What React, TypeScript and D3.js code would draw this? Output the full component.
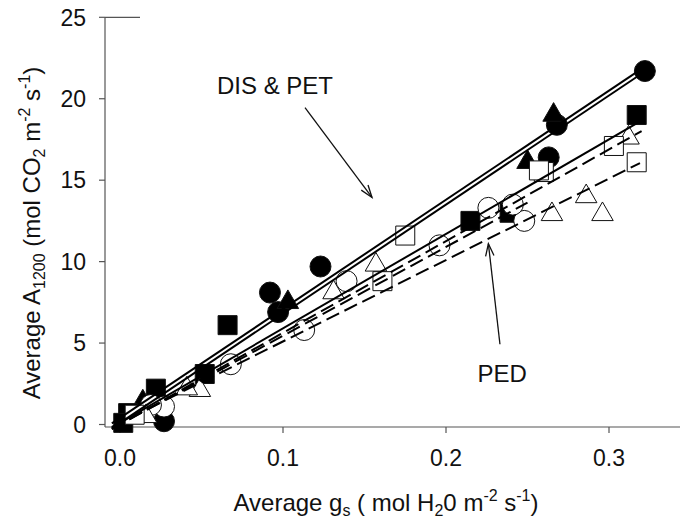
import React from 'react';
import * as d3 from 'd3';

// values: [gs, A1200]
const filledCircles = [[0.322, 21.7], [0.268, 18.4], [0.263, 16.4], [0.123, 9.7], [0.092, 8.1], [0.097, 6.9], [0.027, 0.2]];
const filledTriangles = [[0.266, 19.0], [0.25, 16.1], [0.103, 7.5], [0.014, 1.4]];
const filledSquares = [[0.317, 19.0], [0.215, 12.5], [0.239, 13.0], [0.066, 6.1], [0.052, 3.1], [0.022, 2.2], [0.005, 0.7], [0.002, 0.1]];
const openCircles = [[0.248, 12.5], [0.241, 13.5], [0.226, 13.3], [0.196, 11.0], [0.139, 8.8], [0.113, 5.8], [0.068, 3.7], [0.027, 1.1], [0.019, 1.2]];
const openTriangles = [[0.312, 17.6], [0.296, 12.9], [0.286, 14.0], [0.265, 12.9], [0.157, 9.8], [0.131, 8.1], [0.049, 2.1], [0.041, 2.2], [0.016, 0.5]];
const openSquares = [[0.317, 16.1], [0.303, 17.1], [0.26, 15.5], [0.257, 15.6], [0.175, 11.6], [0.161, 8.8], [0.009, 0.6]];

// regression lines: DIS & PET (solid) and PED (dashed)
const fitSlope = [67, 67, 58, 56.3, 54.5, 50];
const fitIntercept = [0.4, 0.1, 0.1, 0, 0, 0.1];
const fitXStart = [-0.005, -0.005, -0.005, -0.005, -0.005, -0.005];
const fitXEnd = [0.322, 0.322, 0.318, 0.32, 0.25, 0.319];

const xTicks = [0, 0.1, 0.2, 0.3];
const yTicks = [0, 5, 10, 15, 20, 25];

// annotation anchors in data units
const disLabel = [0.0951, 20.31];
const disArrow = [[0.1135, 19.45], [0.1546, 13.94]];
const pedLabel = [0.2344, 2.6];
const pedArrow = [[0.2331, 4.93], [0.226, 11.1]];

const W = 681;
const H = 527;
const FONT = '"Liberation Sans", Arial, sans-serif';

const App = () => {
  const x = d3.scaleLinear().domain([0, 0.3]).range([120, 609]);
  const y = d3.scaleLinear().domain([0, 25]).range([424.5, 17.3]);
  const axisY = 427;
  const axisX = 105;

  const circle = d3.symbol().type(d3.symbolCircle).size(346)();
  const square = d3.symbol().type(d3.symbolSquare).size(361)();
  const triangle = d3.symbol().type(d3.symbolTriangle).size(200)();

  const marks = (pts, path, fill, key) =>
    pts.map((d, i) => (
      <path key={key + i} d={path} transform={`translate(${x(d[0])},${y(d[1])})`}
        fill={fill} stroke="#111" strokeWidth={1} />
    ));

  const line = d3.line().x(d => x(d[0])).y(d => y(d[1]));

  const arrow = (pts, key) => {
    const [a, b] = pts;
    const x0 = x(a[0]), y0 = y(a[1]), x1 = x(b[0]), y1 = y(b[1]);
    const ang = Math.atan2(y1 - y0, x1 - x0);
    const len = 13, spread = 0.33;
    const h1 = [x1 - len * Math.cos(ang - spread), y1 - len * Math.sin(ang - spread)];
    const h2 = [x1 - len * Math.cos(ang + spread), y1 - len * Math.sin(ang + spread)];
    return (
      <g key={key} stroke="#111" strokeWidth={1.3} fill="none">
        <line x1={x0} y1={y0} x2={x1} y2={y1} />
        <polyline points={`${h1[0]},${h1[1]} ${x1},${y1} ${h2[0]},${h2[1]}`} />
      </g>
    );
  };

  return (
    <svg width={W} height={H} style={{ position: 'absolute', left: 0, top: 0, background: '#fff' }}
      fontFamily={FONT}>
      {/* axes */}
      <g stroke="#555" strokeWidth={1.2}>
        <line x1={axisX} y1={y(25)} x2={axisX} y2={axisY} />
        <line x1={axisX} y1={axisY} x2={680} y2={axisY} />
        <line x1={axisX} y1={y(25)} x2={140} y2={y(25)} />
        {yTicks.map(t => <line key={'yt' + t} x1={axisX - 6} x2={axisX} y1={y(t)} y2={y(t)} />)}
        {xTicks.map(t => <line key={'xt' + t} x1={x(t)} x2={x(t)} y1={axisY} y2={axisY + 6} />)}
      </g>
      {yTicks.map(t => (
        <text key={'yl' + t} x={86} y={y(t)} dy="0.36em" textAnchor="end" fontSize={23} fill="#111">{t}</text>
      ))}
      {xTicks.map(t => (
        <text key={'xl' + t} x={x(t)} y={466} textAnchor="middle" fontSize={23} fill="#111">{d3.format('.1f')(t)}</text>
      ))}

      {/* markers */}
      {marks(filledCircles, circle, '#000', 'fc')}
      {marks(filledTriangles, triangle, '#000', 'ft')}
      {marks(filledSquares, square, '#000', 'fs')}
      {marks(openCircles, circle, '#fff', 'oc')}
      {marks(openTriangles, triangle, '#fff', 'ot')}
      {marks(openSquares, square, '#fff', 'os')}

      {/* fit lines */}
      {fitSlope.map((s, i) => {
        const pts = [fitXStart[i], fitXEnd[i]].map(v => [v, fitIntercept[i] + s * v]);
        return (
          <path key={'fit' + i} d={line(pts)} fill="none" stroke="#000" strokeWidth={2}
            strokeDasharray={i >= 3 ? '14,6' : undefined} />
        );
      })}

      {/* annotations */}
      <text x={x(disLabel[0])} y={y(disLabel[1])} textAnchor="middle" fontSize={24} fill="#111">DIS &amp; PET</text>
      {arrow(disArrow, 'a1')}
      <text x={x(pedLabel[0])} y={y(pedLabel[1])} textAnchor="middle" fontSize={24} fill="#111">PED</text>
      {arrow(pedArrow, 'a2')}

      {/* axis titles */}
      <text x={386} y={511} textAnchor="middle" fontSize={24} fill="#111">
        Average g<tspan fontSize={16} dy={5}>s</tspan>
        <tspan dy={-5}> ( mol H</tspan><tspan fontSize={16} dy={5}>2</tspan>
        <tspan dy={-5}>0 m</tspan><tspan fontSize={16} dy={-10}>-2</tspan>
        <tspan dy={10}> s</tspan><tspan fontSize={16} dy={-10}>-1</tspan>
        <tspan dy={10}>)</tspan>
      </text>
      <text transform={`translate(40,233) rotate(-90)`} textAnchor="middle" fontSize={24} fill="#111">
        Average A<tspan fontSize={16} dy={5}>1200</tspan>
        <tspan dy={-5}> (mol CO</tspan><tspan fontSize={16} dy={5}>2</tspan>
        <tspan dy={-5}> m</tspan><tspan fontSize={16} dy={-10}>-2</tspan>
        <tspan dy={10}> s</tspan><tspan fontSize={16} dy={-10}>-1</tspan>
        <tspan dy={10}>)</tspan>
      </text>
    </svg>
  );
};

export default App;
